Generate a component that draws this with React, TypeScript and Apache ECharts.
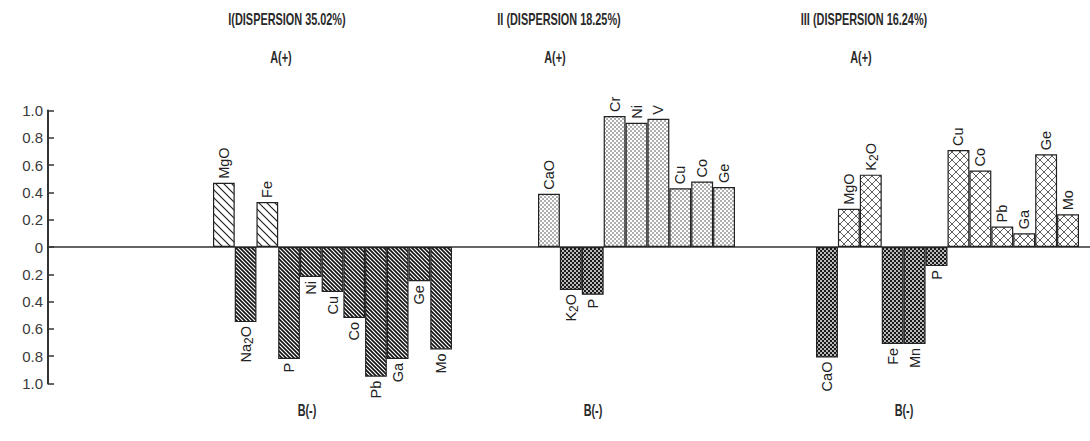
import React, { useEffect, useRef } from 'react';
import * as echarts from 'echarts';

// ---- data ----
const panel1Elements = ['MgO', 'Na₂O', 'Fe', 'P', 'Ni', 'Cu', 'Co', 'Pb', 'Ga', 'Ge', 'Mo'];
const panel1Loadings = [0.47, -0.55, 0.33, -0.82, -0.22, -0.33, -0.52, -0.95, -0.82, -0.25, -0.75];

const panel2Elements = ['CaO', 'K₂O', 'P', 'Cr', 'Ni', 'V', 'Cu', 'Co', 'Ge'];
const panel2Loadings = [0.39, -0.315, -0.35, 0.96, 0.91, 0.94, 0.43, 0.48, 0.44];

const panel3Elements = ['CaO', 'MgO', 'K₂O', 'Fe', 'Mn', 'P', 'Cu', 'Co', 'Pb', 'Ga', 'Ge', 'Mo'];
const panel3Loadings = [-0.81, 0.28, 0.53, -0.71, -0.71, -0.14, 0.71, 0.56, 0.15, 0.10, 0.68, 0.24];

const panelTitles = ['I(DISPERSION 35.02%)', 'II (DISPERSION 18.25%)', 'III (DISPERSION 16.24%)'];
const positiveLabel = 'A(+)';
const negativeLabel = 'B(-)';

// ---- patterns ----
function tile(w: number, h: number, body: string): string {
  const svg = `<svg xmlns="http://www.w3.org/2000/svg" width="${w}" height="${h}">${body}</svg>`;
  return 'data:image/svg+xml;charset=utf-8,' + encodeURIComponent(svg);
}
function pattern(img: string, w: number, h: number): any {
  return { type: 'pattern', image: img, repeat: 'repeat', imageWidth: w, imageHeight: h };
}
function diag(w: number, color: string, sw: number): string {
  return `<rect width="${w}" height="${w}" fill="#fff"/><path d="M-1,-1 L${w + 1},${w + 1} M-1,${w - 1} L1,${w + 1} M${w - 1},-1 L${w + 1},1" stroke="${color}" stroke-width="${sw}" fill="none"/>`;
}
const hatchSparse = pattern(tile(8, 8, diag(8, '#222', 1.2)), 8, 8);
const hatchDense = pattern(tile(4, 4, diag(4, '#111', 1.6)), 4, 4);
const dotsLight = pattern(
  tile(4, 4, '<rect width="4" height="4" fill="#fff"/><circle cx="1" cy="1" r="0.7" fill="#222"/><circle cx="3" cy="3" r="0.7" fill="#222"/>'),
  4, 4
);
const dotsDense = pattern(
  tile(4, 4, '<rect width="4" height="4" fill="#1a1a1a"/><circle cx="1" cy="1" r="0.95" fill="#fff"/><circle cx="3" cy="3" r="0.95" fill="#fff"/>'),
  4, 4
);
const crossHatch = pattern(
  tile(8, 8, '<rect width="8" height="8" fill="#fff"/><path d="M-1,-1 L9,9 M-1,7 L1,9 M7,-1 L9,1 M9,-1 L-1,9 M-1,1 L1,-1 M7,9 L9,7" stroke="#333" stroke-width="0.8" fill="none"/>'),
  8, 8
);

const FONT = 'Liberation Sans, Arial, sans-serif';
const GRID_TOP = 110.5;
const GRID_H = 273;

function labelText(name: string): string {
  if (name.indexOf('₂') >= 0) {
    const [a, b] = name.split('₂');
    return `{n|${a}}{s|2}{n|${b}}`;
  }
  return name;
}

function buildData(values: number[], pos: any, neg: any) {
  return values.map((v) => ({
    value: v,
    itemStyle: { color: v >= 0 ? pos : neg },
    label: v >= 0 ? { position: 'top', align: 'left' } : { position: 'bottom', align: 'right' },
  }));
}

function barSeries(idx: number, values: number[], pos: any, neg: any) {
  return {
    type: 'bar',
    xAxisIndex: idx,
    yAxisIndex: idx,
    barCategoryGap: '0%',
    data: buildData(values, pos, neg),
    itemStyle: { borderColor: '#222', borderWidth: 1.2 },
    label: {
      show: true,
      rotate: 90,
      verticalAlign: 'middle',
      distance: 4,
      fontSize: 14.5,
      fontFamily: FONT,
      color: '#222',
      formatter: (p: any) => labelText(p.name),
      rich: {
        n: { fontSize: 14.5, fontFamily: FONT, color: '#222' },
        s: { fontSize: 12, fontFamily: FONT, color: '#222', padding: [7, 0, 0, 0] },
      },
    },
  };
}

function condText(text: string, x: number, y: number) {
  return {
    type: 'text',
    x,
    y,
    scaleX: 0.66,
    style: {
      text,
      fontSize: 16.5,
      fontWeight: 'bold',
      fontFamily: FONT,
      fill: '#2a2a2a',
      align: 'center',
      verticalAlign: 'middle',
      textAlign: 'center',
      textVerticalAlign: 'middle',
    },
  };
}

const titleX = [287, 559, 864];
const aX = [281, 555, 861];
const bX = [307, 593, 904];

export default function App() {
  const ref = useRef<HTMLDivElement>(null);
  useEffect(() => {
    if (!ref.current) return;
    const chart = echarts.init(ref.current, undefined, { renderer: 'svg' });
    const panels = [
      { left: 213, width: 239, names: panel1Elements, values: panel1Loadings, pos: hatchSparse, neg: hatchDense },
      { left: 538, width: 197, names: panel2Elements, values: panel2Loadings, pos: dotsLight, neg: dotsDense },
      { left: 816, width: 263, names: panel3Elements, values: panel3Loadings, pos: crossHatch, neg: dotsDense },
    ];
    const grid: any[] = [{ left: 48, right: 0, top: GRID_TOP, height: GRID_H }];
    const xAxis: any[] = [
      {
        gridIndex: 0,
        type: 'category',
        data: [''],
        axisLine: { show: true, onZero: true, lineStyle: { color: '#333', width: 1.6 } },
        axisTick: { show: false },
        axisLabel: { show: false },
      },
    ];
    const yAxis: any[] = [
      {
        gridIndex: 0,
        type: 'value',
        min: -1,
        max: 1,
        interval: 0.2,
        axisLine: { show: true, lineStyle: { color: '#333', width: 2 } },
        axisTick: { show: true, inside: true, length: 6, lineStyle: { color: '#333', width: 1.5 } },
        splitLine: { show: false },
        axisLabel: {
          margin: 5,
          fontSize: 15,
          fontFamily: FONT,
          color: '#3a3a3a',
          formatter: (v: number) => (Math.abs(v) < 1e-9 ? '0' : Math.abs(v).toFixed(1)),
        },
      },
    ];
    const series: any[] = [];
    panels.forEach((p, i) => {
      grid.push({ left: p.left, width: p.width, top: GRID_TOP, height: GRID_H });
      xAxis.push({ gridIndex: i + 1, type: 'category', data: p.names, show: false });
      yAxis.push({ gridIndex: i + 1, type: 'value', min: -1, max: 1, show: false, splitLine: { show: false } });
      series.push(barSeries(i + 1, p.values, p.pos, p.neg));
    });
    const graphic: any[] = [];
    panelTitles.forEach((t, i) => {
      graphic.push(condText(t, titleX[i], 19));
      graphic.push(condText(positiveLabel, aX[i], 57));
      graphic.push(condText(negativeLabel, bX[i], 410));
    });
    chart.setOption({
      animation: false,
      backgroundColor: '#fff',
      grid,
      xAxis,
      yAxis,
      series,
      graphic: { elements: graphic },
    });
    return () => chart.dispose();
  }, []);
  return (
    <div
      ref={ref}
      style={{ position: 'fixed', left: 0, top: 0, width: 1090, height: 441, background: '#fff' }}
    />
  );
}
